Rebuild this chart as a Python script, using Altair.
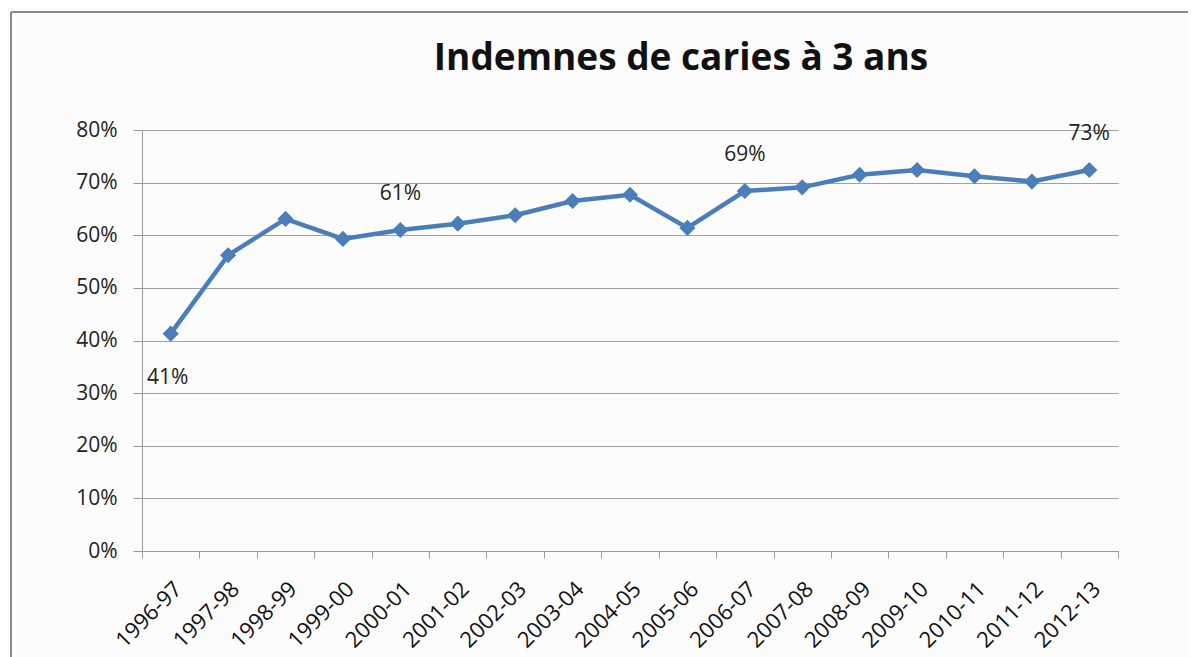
import altair as alt
import pandas as pd

years = ["1996-97", "1997-98", "1998-99", "1999-00", "2000-01", "2001-02",
         "2002-03", "2003-04", "2004-05", "2005-06", "2006-07", "2007-08",
         "2008-09", "2009-10", "2010-11", "2011-12", "2012-13"]
values = [0.413, 0.562, 0.631, 0.593, 0.610, 0.622, 0.638, 0.665, 0.677,
          0.614, 0.684, 0.691, 0.715, 0.724, 0.712, 0.702, 0.724]

label_years_below = ["1996-97"]
label_texts_below = ["41%"]
label_years_above = ["2000-01", "2006-07", "2012-13"]
label_texts_above = ["61%", "69%", "73%"]

df = pd.DataFrame({"year": years, "value": values})
df_below = pd.DataFrame({"year": label_years_below, "label": label_texts_below,
                         "value": [values[years.index(y)] for y in label_years_below]})
df_above = pd.DataFrame({"year": label_years_above, "label": label_texts_above,
                         "value": [values[years.index(y)] for y in label_years_above]})

BLUE = "#4a7ebb"
FONT = "Open Sans"
W, H = 976, 421

xenc = alt.X("year:N", sort=years, title=None, bandPosition=0.5,
             scale=alt.Scale(type="band", domain=years, paddingInner=0, paddingOuter=0),
             axis=alt.Axis(labelAngle=-45, labelFontSize=22, labelFont=FONT,
                           labelColor="#111", tickBand="extent", tickSize=7,
                           tickColor="#999", domainColor="#999", labelPadding=20,
                           grid=False))
yenc = alt.Y("value:Q", title=None,
             scale=alt.Scale(domain=[0, 0.8], nice=False),
             axis=alt.Axis(values=[0, 0.1, 0.2, 0.3, 0.4, 0.5, 0.6, 0.7, 0.8],
                           format=".0%", labelFontSize=21, labelFont=FONT,
                           labelColor="#222", tickSize=9, tickColor="#999",
                           domainColor="#999", gridColor="#a0a0a0",
                           labelPadding=16, grid=True))

base = alt.Chart(df)
line = base.mark_line(color=BLUE, strokeWidth=4.5).encode(x=xenc, y=yenc)
pts = base.mark_point(shape="diamond", filled=True, size=260, opacity=1,
                      color=BLUE).encode(x=xenc, y=yenc)

lab_above = alt.Chart(df_above).mark_text(
    font=FONT, fontSize=21, color="#222", dy=-36).encode(
    x=alt.X("year:N", sort=years, bandPosition=0.5), y="value:Q", text="label:N")
lab_below = alt.Chart(df_below).mark_text(
    font=FONT, fontSize=21, color="#222", dy=44, dx=-3).encode(
    x=alt.X("year:N", sort=years, bandPosition=0.5), y="value:Q", text="label:N")

frame_top = alt.Chart(df).mark_rule(color="#8a8a8a", strokeWidth=2).encode(
    x=alt.value(-131), x2=alt.value(1060), y=alt.value(-118))
frame_left = alt.Chart(df).mark_rule(color="#8a8a8a", strokeWidth=2).encode(
    x=alt.value(-131), y=alt.value(-118), y2=alt.value(530))

chart = alt.layer(frame_top, frame_left, line, pts, lab_above, lab_below).properties(
    width=W, height=H,
    autosize=alt.AutoSizeParams(type="none"),
    padding={"left": 134, "top": 122, "right": 70, "bottom": 110},
    title=alt.TitleParams("Indemnes de caries à 3 ans", font=FONT, fontSize=37,
                          fontWeight="bold", color="#111", anchor="middle",
                          frame="group", dx=51, offset=-96, baseline="alphabetic"),
    background="#fcfcfc",
).configure_view(stroke=None)

chart.save("out.html", embed_options={"renderer": "svg", "actions": False})
